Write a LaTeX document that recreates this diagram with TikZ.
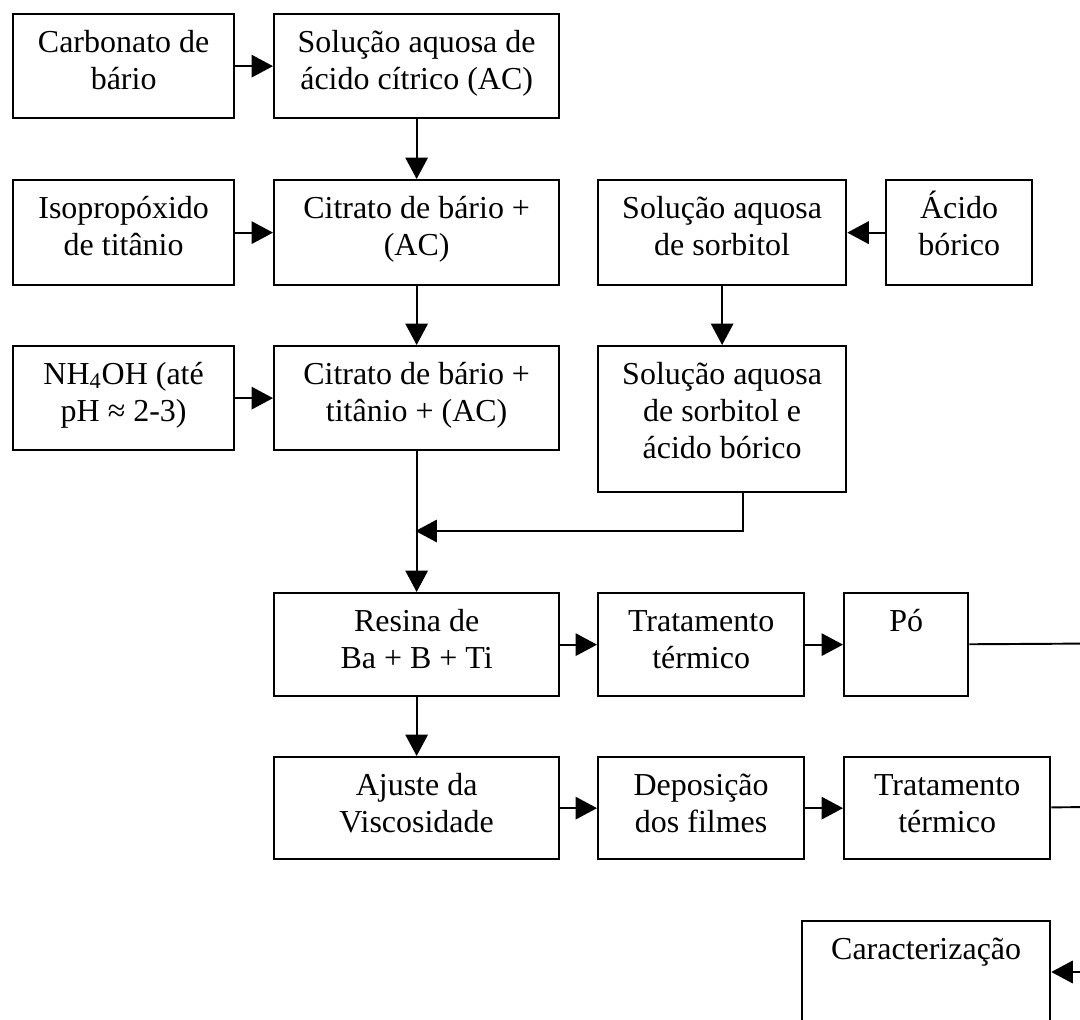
\documentclass[tikz,border=0pt]{standalone}
\usepackage{fontspec}
\setmainfont{Liberation Serif}
\usetikzlibrary{arrows.meta, calc}

% one unit = one pixel of the 1080 x 1020 sheet
\newlength{\pxu}
\setlength{\pxu}{0.02cm}
% text hangs from the top of its box, as in the original
\newcommand{\boxtext}[3]{\parbox[c][#2\pxu][t]{#1\pxu}{\centering\rule{0pt}{38\pxu}#3}}

\begin{document}
\begin{tikzpicture}[
  x=0.02cm, y=-0.02cm,
  proc/.style={
    rectangle, draw=black, line width=1.3pt, inner sep=0pt, anchor=north west,
    font=\fontsize{18.2pt}{21.3pt}\selectfont
  },
  link/.style={-{Triangle[length=0.43cm, width=0.45cm]}, draw=black, line width=1.1pt},
  plain/.style={draw=black, line width=1.1pt}
]
\useasboundingbox (0,0) rectangle (1080,1020);
\clip (0,0) rectangle (1080,1020);

% ============================================================
% Upper part: preparing the citrate and the sorbitol solution
\node[proc] (carb)  at (12,13)   {\boxtext{221}{104}{Carbonato de\\bário}};
\node[proc] (solac) at (273,13)  {\boxtext{285}{104}{Solução aquosa de\\ácido cítrico (AC)}};

\node[proc] (iso)   at (12,179)  {\boxtext{221}{105}{Isopropóxido\\de titânio}};
\node[proc] (citr1) at (273,179) {\boxtext{285}{105}{Citrato de bário +\\(AC)}};
\node[proc] (sorb)  at (597,179) {\boxtext{248}{105}{Solução aquosa\\de sorbitol}};
\node[proc] (acbor) at (885,179) {\boxtext{146}{105}{Ácido\\bórico}};

\node[proc] (nh4)   at (12,345)  {\boxtext{221}{104}{NH\textsubscript{4}OH (até\\pH ≈ 2-3)}};
\node[proc] (citr2) at (273,345) {\boxtext{285}{104}{Citrato de bário +\\titânio + (AC)}};
\node[proc] (sorbe) at (597,345) {\boxtext{248}{146}{Solução aquosa\\de sorbitol e\\ácido bórico}};

% ============================================================
% Lower part: resin, powder and films
\node[proc] (resina) at (273,592) {\boxtext{285}{103}{Resina de\\Ba + B + Ti}};
\node[proc] (trat1)  at (597,592) {\boxtext{206}{103}{Tratamento\\térmico}};
\node[proc] (po)     at (843,592) {\boxtext{124}{103}{Pó}};

\node[proc] (ajuste) at (273,756) {\boxtext{285}{102}{Ajuste da\\Viscosidade}};
\node[proc] (depos)  at (597,756) {\boxtext{206}{102}{Deposição\\dos filmes}};
\node[proc] (trat2)  at (843,756) {\boxtext{206}{102}{Tratamento\\térmico}};

% cut off by the lower edge of the sheet
\node[proc] (carac)  at (801,920) {\boxtext{248}{140}{Caracterização}};

% ============================================================
% Connectors
\coordinate (mix)     at (415.5,531);
\coordinate (buspo)   at (1100,643.5);
\coordinate (busfilm) at (1100,807);

\draw[link] (carb) -- (solac);
\draw[link] (solac) -- (citr1);
\draw[link] (iso) -- (citr1);
\draw[link] (acbor) -- (sorb);
\draw[link] (citr1) -- (citr2);
\draw[link] (sorb) -- (sorbe);
\draw[link] (nh4) -- (citr2);
\draw[link] (citr2) -- (resina);
\draw[link] ([xshift=21\pxu]sorbe.south) |- (mix);

\draw[link] (resina) -- (trat1);
\draw[link] (trat1) -- (po);
\draw[link] (resina) -- (ajuste);
\draw[link] (ajuste) -- (depos);
\draw[link] (depos) -- (trat2);

% both branches leave the sheet on the right
\draw[plain] (trat2) -- (busfilm);
\draw[link] (po) -- (buspo) |- ([yshift=-52\pxu]carac.north east);

\end{tikzpicture}
\end{document}
